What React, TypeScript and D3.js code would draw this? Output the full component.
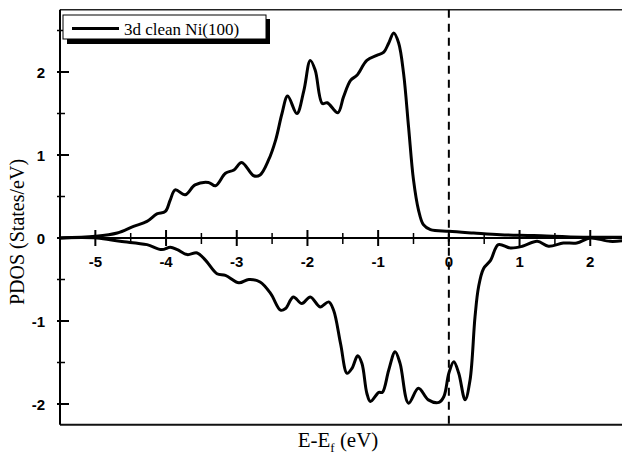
import { useEffect, useRef } from 'react';
import * as d3 from 'd3';

// spin-up (positive) 3d PDOS
const energyUp = [
  -5.5, -5.0, -4.69, -4.46, -4.27, -4.13, -4.01, -3.94, -3.87, -3.73, -3.59, -3.4, -3.3, -3.16, -3.04,
  -2.93, -2.76, -2.67, -2.55, -2.45, -2.36, -2.28, -2.15, -2.05, -1.96, -1.89, -1.79, -1.72, -1.57,
  -1.49, -1.39, -1.3, -1.16, -1.02, -0.92, -0.85, -0.78, -0.71, -0.64, -0.57, -0.5, -0.43, -0.36,
  -0.26, 0, 0.35, 0.73, 1.2, 1.9, 2.5,
];
const pdosUp = [
  0, 0.02, 0.06, 0.14, 0.2, 0.29, 0.32, 0.46, 0.58, 0.52, 0.64, 0.67, 0.63, 0.78, 0.82,
  0.91, 0.75, 0.76, 0.94, 1.18, 1.5, 1.71, 1.5, 1.78, 2.14, 2.02, 1.62, 1.63, 1.51,
  1.7, 1.9, 1.96, 2.14, 2.2, 2.24, 2.35, 2.47, 2.35, 1.98, 1.34, 0.7, 0.34, 0.16,
  0.1, 0.08, 0.06, 0.04, 0.03, 0.01, 0.01,
];

// spin-down (negative) 3d PDOS
const energyDown = [
  -5.5, -4.98, -4.65, -4.27, -4.06, -3.94, -3.84, -3.7, -3.56, -3.44, -3.28, -3.16, -2.97, -2.83,
  -2.67, -2.52, -2.38, -2.31, -2.2, -2.08, -1.96, -1.82, -1.7, -1.63, -1.53, -1.44, -1.37, -1.29,
  -1.23, -1.16, -1.11, -0.99, -0.94, -0.85, -0.76, -0.69, -0.57, -0.43, -0.29, -0.14, -0.07, 0,
  0.07, 0.14, 0.23, 0.3, 0.37, 0.42, 0.49, 0.59, 0.7, 0.87, 1.04, 1.25, 1.41, 1.62, 1.81, 2.0,
  2.28, 2.5,
];
const pdosDown = [
  0, 0, -0.04, -0.08, -0.14, -0.11, -0.14, -0.2, -0.18, -0.27, -0.43, -0.45, -0.54, -0.5,
  -0.53, -0.67, -0.87, -0.85, -0.71, -0.79, -0.71, -0.83, -0.77, -0.87, -1.28, -1.63, -1.57, -1.42,
  -1.51, -1.87, -1.97, -1.86, -1.86, -1.59, -1.37, -1.51, -1.99, -1.81, -1.95, -1.98, -1.91, -1.63,
  -1.49, -1.63, -1.95, -1.71, -0.95, -0.59, -0.37, -0.27, -0.08, -0.12, -0.1, -0.04, -0.1, -0.06,
  -0.06, 0, -0.04, -0.03,
];

const xMajor = [-5, -4, -3, -2, -1, 0, 1, 2];
const xMinor = [-4.5, -3.5, -2.5, -1.5, -0.5, 0.5, 1.5];
const yMajor = [-2, -1, 0, 1, 2];
const yMinor = [-1.5, -0.5, 0.5, 1.5, 2.5];
const legendLabel = '3d clean Ni(100)';

const W = 622, H = 457;
const LEFT = 60, TOP = 9.75, BOTTOM = 424.75;
const SERIF = '"Liberation Serif", "Times New Roman", serif';
const SANS = '"Liberation Sans", Arial, sans-serif';

export default function App() {
  const svgRef = useRef<SVGSVGElement>(null);

  useEffect(() => {
    const svg = d3.select(svgRef.current);
    svg.selectAll('*').remove();

    const x = d3.scaleLinear().domain([-5.5, 2.5]).range([LEFT, LEFT + 8 * 70.7]);
    const y = d3.scaleLinear().domain([-2.25, 2.75]).range([BOTTOM, TOP]);

    const line = d3.line<[number, number]>()
      .x((d) => x(d[0]))
      .y((d) => y(d[1]))
      .curve(d3.curveCatmullRom.alpha(0.5));

    // frame: top and bottom
    svg.append('line')
      .attr('x1', LEFT).attr('x2', W).attr('y1', y(2.75)).attr('y2', y(2.75))
      .attr('stroke', '#222').attr('stroke-width', 1.5);
    svg.append('line')
      .attr('x1', LEFT).attr('x2', W).attr('y1', y(-2.25)).attr('y2', y(-2.25))
      .attr('stroke', '#111').attr('stroke-width', 2);

    // Fermi level
    svg.append('line')
      .attr('x1', x(0)).attr('x2', x(0)).attr('y1', y(2.75)).attr('y2', y(-2.25))
      .attr('stroke', '#000').attr('stroke-width', 2).attr('stroke-dasharray', '8,6');

    // curves
    const up = energyUp.map((e, i) => [e, pdosUp[i]] as [number, number]);
    const down = energyDown.map((e, i) => [e, pdosDown[i]] as [number, number]);
    [up, down].forEach((pts) => {
      svg.append('path')
        .attr('d', line(pts))
        .attr('fill', 'none')
        .attr('stroke', '#000')
        .attr('stroke-width', 3)
        .attr('stroke-linejoin', 'round');
    });

    // x axis along zero
    const gx = svg.append('g').attr('transform', `translate(0,${y(0)})`);
    gx.append('line').attr('x1', LEFT).attr('x2', W).attr('stroke', '#000').attr('stroke-width', 2);
    gx.selectAll('.maj').data(xMajor).join('line')
      .attr('x1', (d) => x(d)).attr('x2', (d) => x(d)).attr('y1', -8).attr('y2', 8)
      .attr('stroke', '#000').attr('stroke-width', 2);
    gx.selectAll('.min').data(xMinor).join('line')
      .attr('x1', (d) => x(d)).attr('x2', (d) => x(d)).attr('y1', -5).attr('y2', 6)
      .attr('stroke', '#000').attr('stroke-width', 1.5);
    gx.selectAll('text').data(xMajor).join('text')
      .attr('x', (d) => x(d)).attr('y', 29)
      .attr('text-anchor', 'middle')
      .attr('font-family', SANS).attr('font-weight', 700).attr('font-size', 15)
      .text((d) => d);

    // y axis
    const gy = svg.append('g').attr('transform', `translate(${LEFT},0)`);
    gy.append('line').attr('y1', TOP).attr('y2', BOTTOM).attr('stroke', '#000').attr('stroke-width', 2);
    gy.selectAll('.maj').data(yMajor).join('line')
      .attr('y1', (d) => y(d)).attr('y2', (d) => y(d)).attr('x1', -3).attr('x2', 9)
      .attr('stroke', '#000').attr('stroke-width', 2);
    gy.selectAll('.min').data(yMinor).join('line')
      .attr('y1', (d) => y(d)).attr('y2', (d) => y(d)).attr('x1', -3).attr('x2', 5)
      .attr('stroke', '#000').attr('stroke-width', 1.5);
    gy.selectAll('text').data(yMajor).join('text')
      .attr('x', -15).attr('y', (d) => y(d) + 5.5)
      .attr('text-anchor', 'end')
      .attr('font-family', SANS).attr('font-weight', 700).attr('font-size', 15)
      .text((d) => d);

    // axis titles
    svg.append('text')
      .attr('transform', `translate(24,${232}) rotate(-90)`)
      .attr('text-anchor', 'middle')
      .attr('font-family', SERIF).attr('font-size', 20)
      .text('PDOS (States/eV)');
    const xt = svg.append('text')
      .attr('x', 338).attr('y', 447)
      .attr('text-anchor', 'middle')
      .attr('font-family', SERIF).attr('font-size', 21);
    xt.append('tspan').text('E-E');
    xt.append('tspan').attr('font-size', 13).attr('dy', 5).text('f');
    xt.append('tspan').attr('dy', -5).text(' (eV)');

    // legend
    const lg = svg.append('g');
    lg.append('rect').attr('x', 67).attr('y', 19).attr('width', 203).attr('height', 25).attr('fill', '#000');
    lg.append('rect').attr('x', 63).attr('y', 15).attr('width', 203).attr('height', 24)
      .attr('fill', '#fff').attr('stroke', '#000').attr('stroke-width', 1);
    lg.append('line').attr('x1', 72).attr('x2', 119).attr('y1', 28.5).attr('y2', 28.5)
      .attr('stroke', '#000').attr('stroke-width', 3);
    lg.append('text').attr('x', 124).attr('y', 34.5)
      .attr('font-family', SERIF).attr('font-size', 17)
      .text(legendLabel);
  }, []);

  return (
    <svg
      ref={svgRef}
      width={W}
      height={H}
      viewBox={`0 0 ${W} ${H}`}
      style={{ position: 'absolute', left: 0, top: 0, background: '#fff' }}
    />
  );
}
